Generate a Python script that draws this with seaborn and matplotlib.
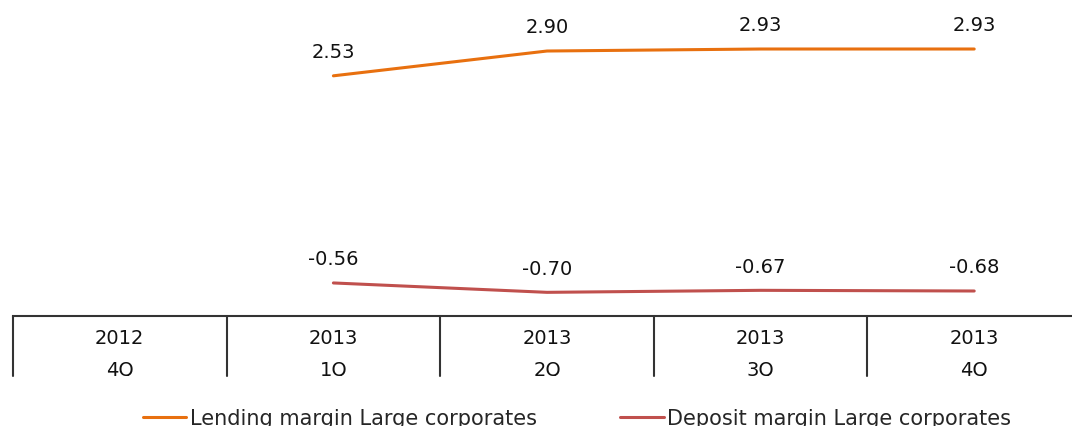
import numpy as np
import pandas as pd
import matplotlib.pyplot as plt
import seaborn as sns

# ---------------------------------------------
#  DATA
# ---------------------------------------------
years = ["2012", "2013", "2013", "2013", "2013"]
quarters = ["4Q", "1Q", "2Q", "3Q", "4Q"]
lending = [np.nan, 2.53, 2.90, 2.93, 2.93]
deposit = [np.nan, -0.56, -0.70, -0.67, -0.68]

series_names = ["Lending margin Large corporates", "Deposit margin Large corporates"]
colors = ["#E8700F", "#C0504D"]

pos = np.arange(len(quarters))
df = pd.DataFrame({
    "pos": np.concatenate([pos, pos]),
    "value": lending + deposit,
    "series": [series_names[0]] * len(pos) + [series_names[1]] * len(pos),
})

# ---------------------------------------------
#  FIGURE
# ---------------------------------------------
sns.set_theme(style="white")
plt.rcParams["font.family"] = ["DejaVu Sans"]

W, H = 1072, 427
fig = plt.figure(figsize=(W / 100, H / 100), dpi=100)

# main plot area: pixel x 13..1081, y 0..317
ax = fig.add_axes([13 / W, 1 - 317 / H, (1081 - 13) / W, 317 / H])
sns.lineplot(data=df, x="pos", y="value", hue="series", palette=colors,
             linewidth=2.2, ax=ax, legend=True, sort=False)
ax.set_xlim(-0.5, 4.5)
ax.set_ylim(-1.053, 3.676)
ax.axis("off")

for vals in (lending, deposit):
    for x, v in zip(pos, vals):
        if np.isnan(v):
            continue
        ax.annotate(f"{v:.2f}", (x, v), xytext=(0, 17.5), textcoords="offset points",
                    ha="center", va="center", fontsize=14, color="#111111")

# category "table" under the plot: pixel y 317..377
tab = fig.add_axes([13 / W, 1 - 377 / H, (1081 - 13) / W, 60 / H])
tab.set_xlim(-0.5, 4.5)
tab.set_ylim(0, 60)
tab.set_xticks([])
tab.set_yticks([])
for side in ("left", "right", "bottom"):
    tab.spines[side].set_visible(False)
tab.spines["top"].set_color("#333333")
tab.spines["top"].set_linewidth(1.5)
for b in np.arange(-0.5, 5.0, 1.0):
    tab.axvline(b, color="#333333", linewidth=1.5, clip_on=False)
for x, yr, q in zip(pos, years, quarters):
    tab.text(x, 38, yr, ha="center", va="center", fontsize=14, color="#111111", clip_on=True)
    tab.text(x, 7, q, ha="center", va="center", fontsize=14, color="#111111", clip_on=True)

# legend at the bottom, partly cut off as in the original
handles, labels = ax.get_legend_handles_labels()
ax.get_legend().remove()
fig.legend(handles, labels, loc="center", bbox_to_anchor=(0.538, 0.018),
           bbox_transform=fig.transFigure, ncol=2, frameon=False,
           fontsize=15, handlelength=2.1, handletextpad=0.15, columnspacing=4.0)

fig.savefig("out.png", dpi=100)
